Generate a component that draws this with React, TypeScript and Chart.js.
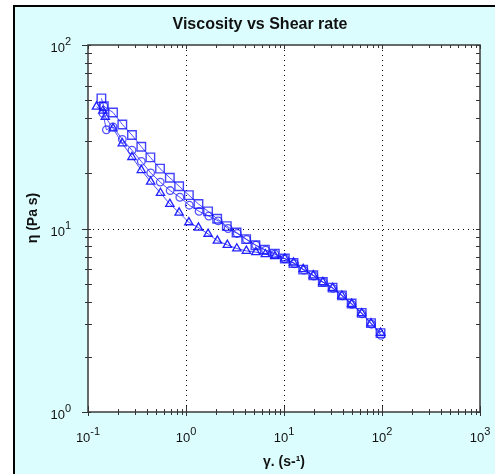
import { useEffect, useRef } from 'react';
import { Chart, registerables } from 'chart.js';
Chart.register(...registerables);

const W = 495;
const H = 474;

const xMajor = [0.1, 1, 10, 100, 1000];
const xExp = ['-1', '0', '1', '2', '3'];
const yMajor = [1, 10, 100];
const yExp = ['0', '1', '2'];

const chartTitle = 'Viscosity vs Shear rate';
const xTitle = 'γ. (s-¹)';
const yTitle = 'η (Pa s)';

const sqX = [0.137, 0.145, 0.180, 0.224, 0.281, 0.350, 0.433, 0.543, 0.684, 0.851, 1.07, 1.34, 1.68, 2.08, 2.61, 3.28, 4.11, 5.11, 6.38, 8.07, 10.2, 12.5, 15.7, 19.9, 24.9, 31.3, 39.0, 49.0, 62.1, 77.2, 96.6];
const sqY = [51.2, 46.4, 42.9, 36.9, 32.3, 27.9, 24.4, 21.2, 18.9, 17.0, 15.2, 13.6, 12.4, 11.3, 10.3, 9.51, 8.75, 8.11, 7.66, 7.29, 6.86, 6.49, 5.97, 5.56, 5.11, 4.76, 4.32, 3.90, 3.47, 3.05, 2.69];

const ciX = [0.145, 0.142, 0.154, 0.180, 0.224, 0.281, 0.350, 0.436, 0.546, 0.689, 0.865, 1.08, 1.36, 1.71, 2.13, 2.69, 3.33, 4.15, 5.16, 6.49, 8.07, 10.2, 12.8, 16.0, 20.2, 25.2, 31.6, 39.5, 49.4, 62.5, 78.2, 97.7];
const ciY = [46.4, 42.5, 34.5, 35.8, 30.6, 26.7, 23.2, 20.1, 17.9, 16.1, 14.8, 13.4, 12.4, 11.7, 11.0, 10.0, 9.40, 8.71, 8.11, 7.62, 7.24, 6.84, 6.43, 5.93, 5.51, 5.09, 4.72, 4.30, 3.86, 3.43, 3.01, 2.62];

const trX = [0.122, 0.142, 0.150, 0.180, 0.224, 0.281, 0.350, 0.436, 0.549, 0.684, 0.851, 1.07, 1.34, 1.68, 2.09, 2.64, 3.30, 4.13, 5.16, 6.45, 8.07, 10.2, 12.5, 15.7, 19.9, 24.9, 31.3, 39.0, 49.0, 62.1, 77.2, 96.6];
const trY = [46.1, 43.8, 40.6, 35.1, 29.1, 24.5, 20.8, 18.0, 15.6, 13.6, 12.2, 10.8, 10.1, 9.35, 8.58, 8.14, 7.78, 7.55, 7.43, 7.24, 7.06, 6.86, 6.52, 6.00, 5.55, 5.10, 4.74, 4.30, 3.88, 3.45, 3.04, 2.70];

const FONT = '"Liberation Sans", Arial, sans-serif';

function pts(xs: number[], ys: number[]) {
  return xs.map((x, i) => ({ x, y: ys[i] }));
}

function drawPow(ctx: CanvasRenderingContext2D, exp: string, x: number, baseY: number, align: 'center' | 'right') {
  ctx.font = `13px ${FONT}`;
  const w1 = ctx.measureText('10').width;
  ctx.font = `11px ${FONT}`;
  const w2 = ctx.measureText(exp).width;
  const total = w1 + w2;
  const left = align === 'center' ? x - total / 2 : x - total;
  ctx.textAlign = 'left';
  ctx.textBaseline = 'alphabetic';
  ctx.font = `13px ${FONT}`;
  ctx.fillText('10', left, baseY);
  ctx.font = `11px ${FONT}`;
  ctx.fillText(exp, left + w1, baseY - 7);
}

const decor = {
  id: 'decor',
  beforeDraw(chart: any) {
    const { ctx, chartArea: a } = chart;
    const xs = chart.scales.x;
    const ys = chart.scales.y;
    ctx.save();
    ctx.fillStyle = '#ffffff';
    ctx.fillRect(0, 0, W, H);
    ctx.fillStyle = '#dcfdfd';
    ctx.fillRect(13, 5, W - 13, H - 5);
    ctx.strokeStyle = '#000';
    ctx.lineWidth = 2;
    ctx.beginPath();
    ctx.moveTo(14, H);
    ctx.lineTo(14, 6);
    ctx.lineTo(W, 6);
    ctx.stroke();
    ctx.fillStyle = '#ffffff';
    ctx.fillRect(a.left, a.top, a.right - a.left, a.bottom - a.top);
    ctx.strokeStyle = '#000';
    ctx.lineWidth = 1;
    ctx.setLineDash([1, 4]);
    for (const v of xMajor) {
      const px = Math.round(xs.getPixelForValue(v)) + 0.5;
      if (px > a.left + 3 && px < a.right - 3) {
        ctx.beginPath();
        ctx.moveTo(px, a.top);
        ctx.lineTo(px, a.bottom);
        ctx.stroke();
      }
    }
    for (const v of yMajor) {
      const py = Math.round(ys.getPixelForValue(v)) + 0.5;
      if (py > a.top + 3 && py < a.bottom - 3) {
        ctx.beginPath();
        ctx.moveTo(a.left, py);
        ctx.lineTo(a.right, py);
        ctx.stroke();
      }
    }
    ctx.restore();
  },
  afterDraw(chart: any) {
    const { ctx, chartArea: a } = chart;
    const xs = chart.scales.x;
    const ys = chart.scales.y;
    ctx.save();
    ctx.strokeStyle = '#3a3a3a';
    ctx.lineWidth = 1.5;
    ctx.strokeRect(a.left, a.top, a.right - a.left, a.bottom - a.top);
    ctx.lineWidth = 1;
    ctx.strokeStyle = '#333';
    for (let d = -1; d <= 3; d++) {
      for (let m = 1; m <= 9; m++) {
        const v = m * Math.pow(10, d);
        if (v > 1000.0001) continue;
        const px = Math.round(xs.getPixelForValue(v)) + 0.5;
        const major = m === 1;
        ctx.beginPath();
        ctx.moveTo(px, a.bottom - (major ? 6 : 3));
        ctx.lineTo(px, a.bottom + (major ? 4 : 3));
        ctx.moveTo(px, a.top);
        ctx.lineTo(px, a.top + (major ? 4 : 3));
        ctx.stroke();
      }
    }
    for (let d = 0; d <= 2; d++) {
      for (let m = 1; m <= 9; m++) {
        const v = m * Math.pow(10, d);
        if (v > 100.0001) continue;
        const py = Math.round(ys.getPixelForValue(v)) + 0.5;
        const major = m === 1;
        ctx.beginPath();
        ctx.moveTo(a.left - (major ? 6 : 3), py);
        ctx.lineTo(a.left + (major ? 3 : 4), py);
        ctx.moveTo(a.right - 4, py);
        ctx.lineTo(a.right, py);
        ctx.stroke();
      }
    }
    ctx.fillStyle = '#111';
    xMajor.forEach((v, i) => {
      drawPow(ctx, xExp[i], xs.getPixelForValue(v), a.bottom + 30, 'center');
    });
    yMajor.forEach((v, i) => {
      drawPow(ctx, yExp[i], a.left - 17, ys.getPixelForValue(v) + 7, 'right');
    });
    ctx.fillStyle = '#111';
    ctx.font = `bold 16px ${FONT}`;
    ctx.textAlign = 'center';
    ctx.textBaseline = 'middle';
    ctx.fillText(chartTitle, 260, 25);
    ctx.font = `bold 14px ${FONT}`;
    ctx.fillText(xTitle, (a.left + a.right) / 2, 462);
    ctx.save();
    ctx.translate(33, 218);
    ctx.rotate(-Math.PI / 2);
    ctx.fillText(yTitle, 0, 0);
    ctx.restore();
    ctx.restore();
  },
};

export default function App() {
  const ref = useRef<HTMLCanvasElement>(null);
  useEffect(() => {
    if (!ref.current) return;
    const line = 'rgba(50,50,255,0.85)';
    const chart = new Chart(ref.current, {
      type: 'scatter',
      data: {
        datasets: [
          {
            data: pts(sqX, sqY),
            showLine: true,
            borderColor: line,
            borderWidth: 1,
            pointStyle: 'rect',
            pointRadius: 6,
            pointBorderColor: 'rgba(20,20,255,0.8)',
            pointBackgroundColor: 'rgba(0,0,0,0)',
            pointBorderWidth: 1.4,
          },
          {
            data: pts(ciX, ciY),
            showLine: true,
            borderColor: line,
            borderWidth: 1,
            pointStyle: 'circle',
            pointRadius: 3.8,
            pointBorderColor: 'rgba(40,40,255,0.8)',
            pointBackgroundColor: 'rgba(0,0,0,0)',
            pointBorderWidth: 1.3,
          },
          {
            data: pts(trX, trY),
            showLine: true,
            borderColor: line,
            borderWidth: 1,
            pointStyle: 'triangle',
            pointRadius: 4.8,
            pointBorderColor: 'rgba(10,10,255,0.9)',
            pointBackgroundColor: 'rgba(0,0,0,0)',
            pointBorderWidth: 1.3,
          },
        ],
      },
      options: {
        responsive: false,
        animation: false,
        devicePixelRatio: 1,
        layout: { padding: { left: 88, right: 15, top: 45, bottom: 62 } },
        plugins: { legend: { display: false }, tooltip: { enabled: false }, title: { display: false } },
        scales: {
          x: { type: 'logarithmic', min: 0.1, max: 1000, display: false },
          y: { type: 'logarithmic', min: 1, max: 100, display: false },
        },
      },
      plugins: [decor],
    } as any);
    return () => chart.destroy();
  }, []);
  return (
    <div style={{ position: 'fixed', left: 0, top: 0, width: W, height: H }}>
      <canvas ref={ref} width={W} height={H} style={{ width: W, height: H, display: 'block' }} />
    </div>
  );
}
